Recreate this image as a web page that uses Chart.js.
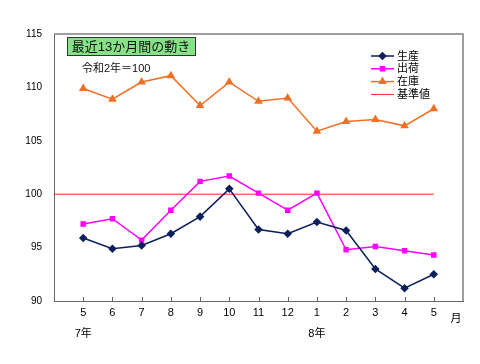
<!DOCTYPE html>
<html>
<head>
<meta charset="utf-8">
<script src="https://cdn.jsdelivr.net/npm/chart.js@4.4.0/dist/chart.umd.min.js"></script>
<style>
  body { margin: 0; background: #fff; }
  canvas { display: block; }
</style>
</head>
<body>
<canvas id="trendChart" width="480" height="364"></canvas>
<script>
// months shown on the x axis (R7/5 .. R8/5)
const months = ['5', '6', '7', '8', '9', '10', '11', '12', '1', '2', '3', '4', '5'];
const yearLabels = ['7年', '', '', '', '', '', '', '', '8年', '', '', '', ''];

// index values, 令和2年 = 100
const production = [95.9, 94.9, 95.2, 96.3, 97.9, 100.5, 96.7, 96.3, 97.4, 96.6, 93.0, 91.2, 92.5];
const shipments = [97.2, 97.7, 95.7, 98.5, 101.2, 101.7, 100.1, 98.5, 100.1, 94.8, 95.1, 94.7, 94.3];
const inventory = [109.9, 108.9, 110.5, 111.1, 108.3, 110.5, 108.7, 109.0, 105.9, 106.8, 107.0, 106.4, 108.0];
const baseValue = 100;

const yMin = 90, yMax = 115, yStep = 5;

const FONT = "'Liberation Sans', Arial, 'Noto Sans CJK JP', sans-serif";

// x positions 1..13, leaving an empty slot on each side
const toPoints = (arr) => arr.map((v, i) => ({ x: i + 1, y: v }));
const baseLine = [{ x: 0, y: baseValue }, { x: months.length, y: baseValue }];

// frame, inward ticks, title box, note, legend and 月 label
const decorations = {
  id: 'decorations',
  beforeDatasetsDraw(chart) {
    const { ctx, chartArea: a, scales } = chart;
    ctx.save();
    ctx.strokeStyle = '#808080';
    ctx.lineWidth = 1.5;
    ctx.beginPath();
    ctx.moveTo(a.left, a.top);
    ctx.lineTo(a.right, a.top);
    ctx.lineTo(a.right, a.bottom);
    ctx.stroke();

    ctx.strokeStyle = '#666';
    ctx.lineWidth = 1;
    for (let i = 1; i <= months.length; i++) {
      const px = Math.round(scales.x.getPixelForValue(i)) + 0.5;
      ctx.beginPath();
      ctx.moveTo(px, a.bottom);
      ctx.lineTo(px, a.bottom - 4);
      ctx.stroke();
    }
    ctx.restore();
  },
  afterDraw(chart) {
    const { ctx } = chart;
    ctx.save();

    // title box
    ctx.fillStyle = '#86e286';
    ctx.fillRect(67, 37, 128, 18);
    ctx.strokeStyle = '#333';
    ctx.lineWidth = 1;
    ctx.strokeRect(67.5, 37.5, 128, 18);
    ctx.fillStyle = '#111';
    ctx.font = '13px ' + FONT;
    ctx.textAlign = 'center';
    ctx.textBaseline = 'middle';
    ctx.fillText('最近13か月間の動き', 131, 47);

    // base note
    ctx.font = '11px ' + FONT;
    ctx.textAlign = 'left';
    ctx.fillText('令和2年＝100', 82, 69);

    // legend
    chart.data.datasets.forEach((ds, i) => {
      const y = 56 + i * 12.8;
      ctx.strokeStyle = ds.borderColor;
      ctx.lineWidth = ds.borderWidth;
      ctx.beginPath();
      ctx.moveTo(371, y);
      ctx.lineTo(394, y);
      ctx.stroke();
      if (ds.pointRadius > 0) {
        ctx.fillStyle = ds.pointBackgroundColor;
        ctx.strokeStyle = ds.borderColor;
        Chart.helpers.drawPoint(ctx, {
          pointStyle: ds.pointStyle, rotation: 0,
          radius: ds.pointRadius, borderWidth: 1
        }, 382.5, y);
      }
      ctx.fillStyle = '#000';
      ctx.font = '11px ' + FONT;
      ctx.textAlign = 'left';
      ctx.textBaseline = 'middle';
      ctx.fillText(ds.label, 397, y + 0.5);
    });

    // unit label after the last month
    ctx.fillStyle = '#000';
    ctx.font = '11px ' + FONT;
    ctx.textAlign = 'center';
    ctx.fillText('月', 456, 319);
    ctx.restore();
  }
};

const ctx = document.getElementById('trendChart').getContext('2d');
const trendChart = new Chart(ctx, {
  type: 'line',
  data: {
    datasets: [
      {
        label: '生産',
        data: toPoints(production),
        borderColor: '#0a1f5c',
        backgroundColor: '#0a1f5c',
        pointBackgroundColor: '#0a1f5c',
        borderWidth: 1.5,
        pointStyle: 'rectRot',
        pointRadius: 3.2
      },
      {
        label: '出荷',
        data: toPoints(shipments),
        borderColor: '#ff00ff',
        backgroundColor: '#ff00ff',
        pointBackgroundColor: '#ff00ff',
        borderWidth: 1.5,
        pointStyle: 'rect',
        pointRadius: 2.8
      },
      {
        label: '在庫',
        data: toPoints(inventory),
        borderColor: '#f07023',
        backgroundColor: '#f07023',
        pointBackgroundColor: '#f07023',
        borderWidth: 1.5,
        pointStyle: 'triangle',
        pointRadius: 3.5
      },
      {
        label: '基準値',
        data: baseLine,
        borderColor: '#ff2020',
        backgroundColor: '#ff2020',
        borderWidth: 1,
        pointRadius: 0
      }
    ]
  },
  options: {
    responsive: false,
    animation: false,
    devicePixelRatio: 1,
    layout: { padding: { top: 34, right: 17, left: 0, bottom: 0 } },
    plugins: {
      legend: { display: false },
      tooltip: { enabled: false }
    },
    scales: {
      x: {
        type: 'linear',
        min: 0,
        max: months.length + 1,
        grid: { display: false, drawTicks: false },
        border: { display: true, color: '#666', width: 1 },
        afterFit: (scale) => { scale.height = 63; },
        ticks: {
          stepSize: 1,
          autoSkip: false,
          maxRotation: 0,
          padding: 2,
          color: '#000',
          font: { family: FONT, size: 11, lineHeight: 1.9 },
          callback: (v) => {
            const i = v - 1;
            if (i < 0 || i >= months.length) return '';
            return yearLabels[i] ? [months[i], yearLabels[i]] : months[i];
          }
        }
      },
      y: {
        min: yMin,
        max: yMax,
        grid: { display: false, drawTicks: false },
        border: { display: true, color: '#666', width: 1 },
        afterFit: (scale) => { scale.width = 54; },
        ticks: {
          stepSize: yStep,
          padding: 12,
          color: '#000',
          font: { family: FONT, size: 10 }
        }
      }
    }
  },
  plugins: [decorations]
});
</script>
</body>
</html>
